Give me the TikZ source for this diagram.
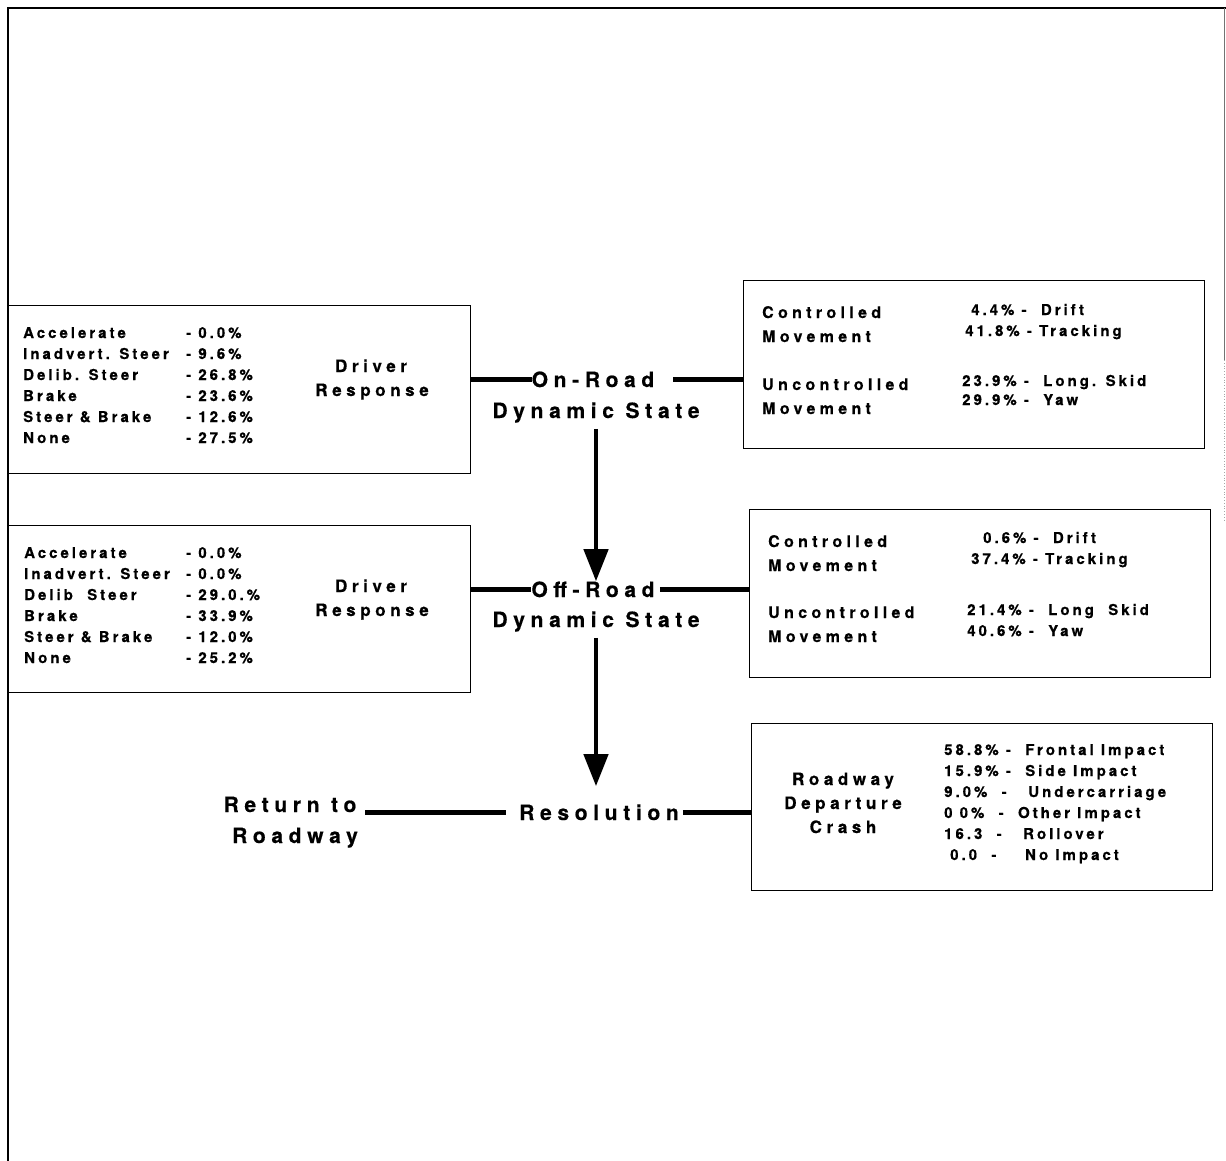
\documentclass[tikz,border=0pt]{standalone}
\usepackage{fontspec}
\setmainfont{TeX Gyre Heros}[LetterSpace=27, FakeBold=0.5]
\newfontfamily\itemfont{TeX Gyre Heros}[LetterSpace=20, FakeBold=0.5]
\usetikzlibrary{arrows.meta}

\begin{document}
\begin{tikzpicture}[x=1pt,y=-1pt,
  frame/.style={line width=2.6pt},
  box/.style={draw, line width=1.4pt, inner sep=0pt, anchor=north west},
  item/.style={font=\itemfont\fontsize{15}{17}\selectfont\bfseries, inner sep=0pt, anchor=base west},
  mvlabel/.style={font=\fontsize{16}{18}\selectfont\bfseries, inner sep=0pt, anchor=base west},
  title/.style={font=\fontsize{17}{20}\selectfont\bfseries, inner sep=0pt, anchor=base},
  state/.style={font=\fontsize{21}{24}\selectfont\bfseries, inner sep=0pt, anchor=base},
  conn/.style={line width=4.5pt},
  flow/.style={line width=4.5pt, -{Triangle[width=24pt,length=32pt]}}]

\useasboundingbox (0,0) rectangle (1226,1161);

% page frame
\draw[frame] (8,1161) -- (8,8) -- (1226,8);
\draw[line width=0.8pt, black!55] (1224,8) -- (1224,360);
\draw[line width=0.8pt, black!35, dotted] (1224,360) -- (1224,520);

% ---------- boxes ----------
\node[box, minimum width=462pt, minimum height=168pt] (drv1) at (8,305) {};
\node[box, minimum width=461pt, minimum height=168pt] (mov1) at (743,280) {};
\node[box, minimum width=462pt, minimum height=167pt] (drv2) at (8,525) {};
\node[box, minimum width=461pt, minimum height=168pt] (mov2) at (749,509) {};
\node[box, minimum width=461pt, minimum height=167pt] (crash) at (751,723) {};

% ---------- driver response, on-road ----------
\node[item] (a1) at (23,338) {Accelerate};
\node[item] (b1) at (23,359) {Inadvert. Steer};
\node[item] (c1) at (23,380) {Delib. Steer};
\node[item] (d1) at (23,401) {Brake};
\node[item] (e1) at (23,422) {Steer \& Brake};
\node[item] (f1) at (23,443) {None};
\node[item] (pa1) at (186,338) {- 0.0\%};
\node[item] (pb1) at (186,359) {- 9.6\%};
\node[item] (pc1) at (186,380) {- 26.8\%};
\node[item] (pd1) at (186,401) {- 23.6\%};
\node[item] (pe1) at (186,422) {- 12.6\%};
\node[item] (pf1) at (186,443) {- 27.5\%};
\node[title] (dr1a) at (371,372) {Driver};
\node[title] (dr1b) at (372,396) {Response};

% ---------- driver response, off-road ----------
\node[item] (a2) at (24,558) {Accelerate};
\node[item] (b2) at (24,579) {Inadvert. Steer};
\node[item] (c2) at (24,600) {Delib\ \ Steer};
\node[item] (d2) at (24,621) {Brake};
\node[item] (e2) at (24,642) {Steer \& Brake};
\node[item] (f2) at (24,663) {None};
\node[item] (pa2) at (186,558) {- 0.0\%};
\node[item] (pb2) at (186,579) {- 0.0\%};
\node[item] (pc2) at (186,600) {- 29.0.\%};
\node[item] (pd2) at (186,621) {- 33.9\%};
\node[item] (pe2) at (186,642) {- 12.0\%};
\node[item] (pf2) at (186,663) {- 25.2\%};
\node[title] (dr2a) at (371,592) {Driver};
\node[title] (dr2b) at (372,616) {Response};

% ---------- movement, on-road ----------
\node[mvlabel] (cm1a) at (762,318) {Controlled};
\node[mvlabel] (cm1b) at (762,342) {Movement};
\node[mvlabel] (um1a) at (762,390) {Uncontrolled};
\node[mvlabel] (um1b) at (762,414) {Movement};
\node[item] (v11) at (971,315) {4.4\% -\ \ Drift};
\node[item] (v12) at (965,336) {41.8\% - Tracking};
\node[item] (v13) at (962,386) {23.9\% -\ \ Long. Skid};
\node[item] (v14) at (962,405) {29.9\% -\ \ Yaw};

% ---------- movement, off-road ----------
\node[mvlabel] (cm2a) at (768,547) {Controlled};
\node[mvlabel] (cm2b) at (768,571) {Movement};
\node[mvlabel] (um2a) at (768,618) {Uncontrolled};
\node[mvlabel] (um2b) at (768,642) {Movement};
\node[item] (v21) at (983,543) {0.6\% -\ \ Drift};
\node[item] (v22) at (971,564) {37.4\% - Tracking};
\node[item] (v23) at (967,615) {21.4\% -\ \ Long\ \ Skid};
\node[item] (v24) at (967,636) {40.6\% -\ \ Yaw};

% ---------- crash ----------
\node[title] (cr1) at (843,785) {Roadway};
\node[title] (cr2) at (843,809) {Departure};
\node[title] (cr3) at (843,833) {Crash};
\node[item] (i1) at (944,755) {58.8\% -\ \ Frontal Impact};
\node[item] (i2) at (944,776) {15.9\% -\ \ Side Impact};
\node[item] (i3) at (944,797) {9.0\%\ \ -\ \ \ Undercarriage};
\node[item] (i4) at (944,818) {0 0\%\ \ -\ \ Other Impact};
\node[item] (i5) at (944,839) {16.3\ \ -\ \ \ Rollover};
\node[item] (i6) at (950,860) {0.0\ \ -\ \ \ \ No Impact};

% ---------- states ----------
\node[state] (on) at (593,387) {On-Road};
\node[state] (dyn1) at (596,418) {Dynamic State};
\node[state] (off) at (593,597) {Off-Road};
\node[state] (dyn2) at (596,627) {Dynamic State};
\node[state] (res) at (599,820) {Resolution};
\node[state] (ret1) at (290,812) {Return to};
\node[state] (ret2) at (295,843) {Roadway};

% ---------- connectors ----------
\draw[conn] (drv1.east |- on.west) -- (on.west);
\draw[conn, shorten <=19pt] (on.east) -- (on.east -| mov1.west);
\draw[conn] (drv2.east |- off.west) -- (off.west);
\draw[conn, shorten <=5pt] (off.east) -- (off.east -| mov2.west);
\draw[flow, shorten <=6pt] (dyn1.south) -- (dyn1.south |- off.north);
\draw[flow, shorten <=6pt, shorten >=18pt] (dyn2.south) -- (dyn2.south |- res.north);
\draw[conn, shorten <=7pt, shorten >=13pt] (res.west -| ret2.east) -- (res.west);
\draw[conn, shorten <=4pt] (res.east) -- (res.east -| crash.west);

\end{tikzpicture}
\end{document}
